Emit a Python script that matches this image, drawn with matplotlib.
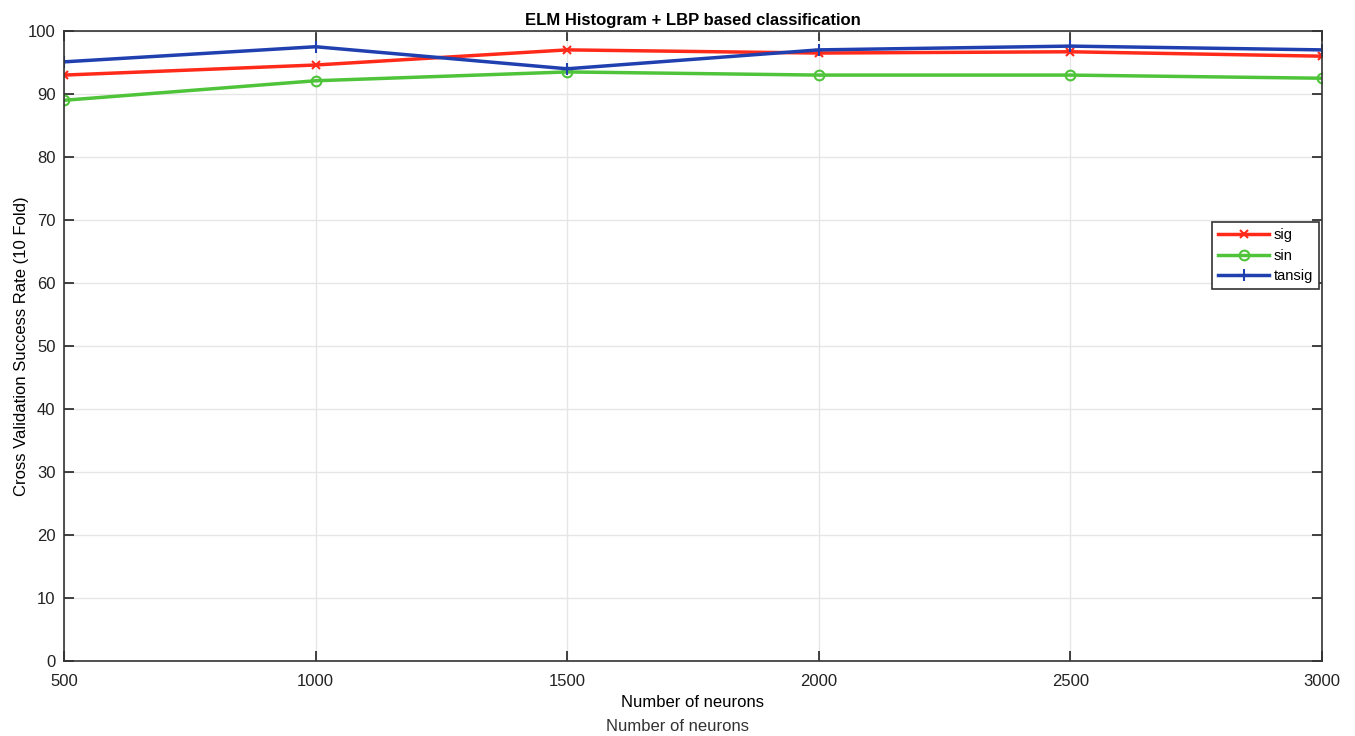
import numpy as np
import matplotlib
matplotlib.use('Agg')
import matplotlib.pyplot as plt

neurons = [500, 1000, 1500, 2000, 2500, 3000]
sig = [93.0, 94.6, 97.0, 96.5, 96.7, 96.0]
sin = [89.0, 92.1, 93.5, 93.0, 93.0, 92.5]
tansig = [95.1, 97.5, 94.0, 97.0, 97.6, 97.0]
yticks = list(range(0, 101, 10))

plt.rcParams['font.family'] = ['Liberation Sans', 'DejaVu Sans']

fig = plt.figure(figsize=(13.55, 7.36), dpi=100)
ax = fig.add_axes([0.0472, 0.1019, 0.9284, 0.856])

ax.plot(neurons, sig, color='#ff2a1a', lw=2.5, marker='x', ms=6, mew=1.5, label='sig')
ax.plot(neurons, sin, color='#4fc43a', lw=2.5, marker='o', ms=7, mfc='none', mew=1.5, label='sin')
ax.plot(neurons, tansig, color='#2040b0', lw=2.5, marker='+', ms=9, mew=1.5, label='tansig')

ax.set_xlim(500, 3000)
ax.set_ylim(0, 100)
ax.set_xticks(neurons)
ax.set_yticks(yticks)
ax.grid(True, color='#e6e6e6', lw=1)
ax.tick_params(direction='in', top=True, right=True, length=7, width=1.2,
               labelsize=12, colors='#222222')
ax.tick_params(axis='x', pad=9)
ax.tick_params(axis='y', pad=6)
for s in ax.spines.values():
    s.set_color('#333333')
    s.set_linewidth(1.2)

ax.set_title('ELM Histogram + LBP based classification', fontsize=12, fontweight='bold', pad=4)
ax.set_xlabel('Number of neurons', fontsize=12, labelpad=5)
ax.set_ylabel('Cross Validation Success Rate (10 Fold)', fontsize=12, labelpad=-1)
fig.text(0.5, 0.003, 'Number of neurons', ha='center', va='bottom', fontsize=12, color='#333333')

leg = ax.legend(loc='upper left', bbox_to_anchor=(0.907, 0.708), fontsize=10.5,
                fancybox=False, framealpha=1, edgecolor='#333333',
                handlelength=3.5, borderpad=0.4, labelspacing=0.45, handletextpad=0.3)
leg.get_frame().set_linewidth(1.2)

fig.savefig('out.png', dpi=100)
